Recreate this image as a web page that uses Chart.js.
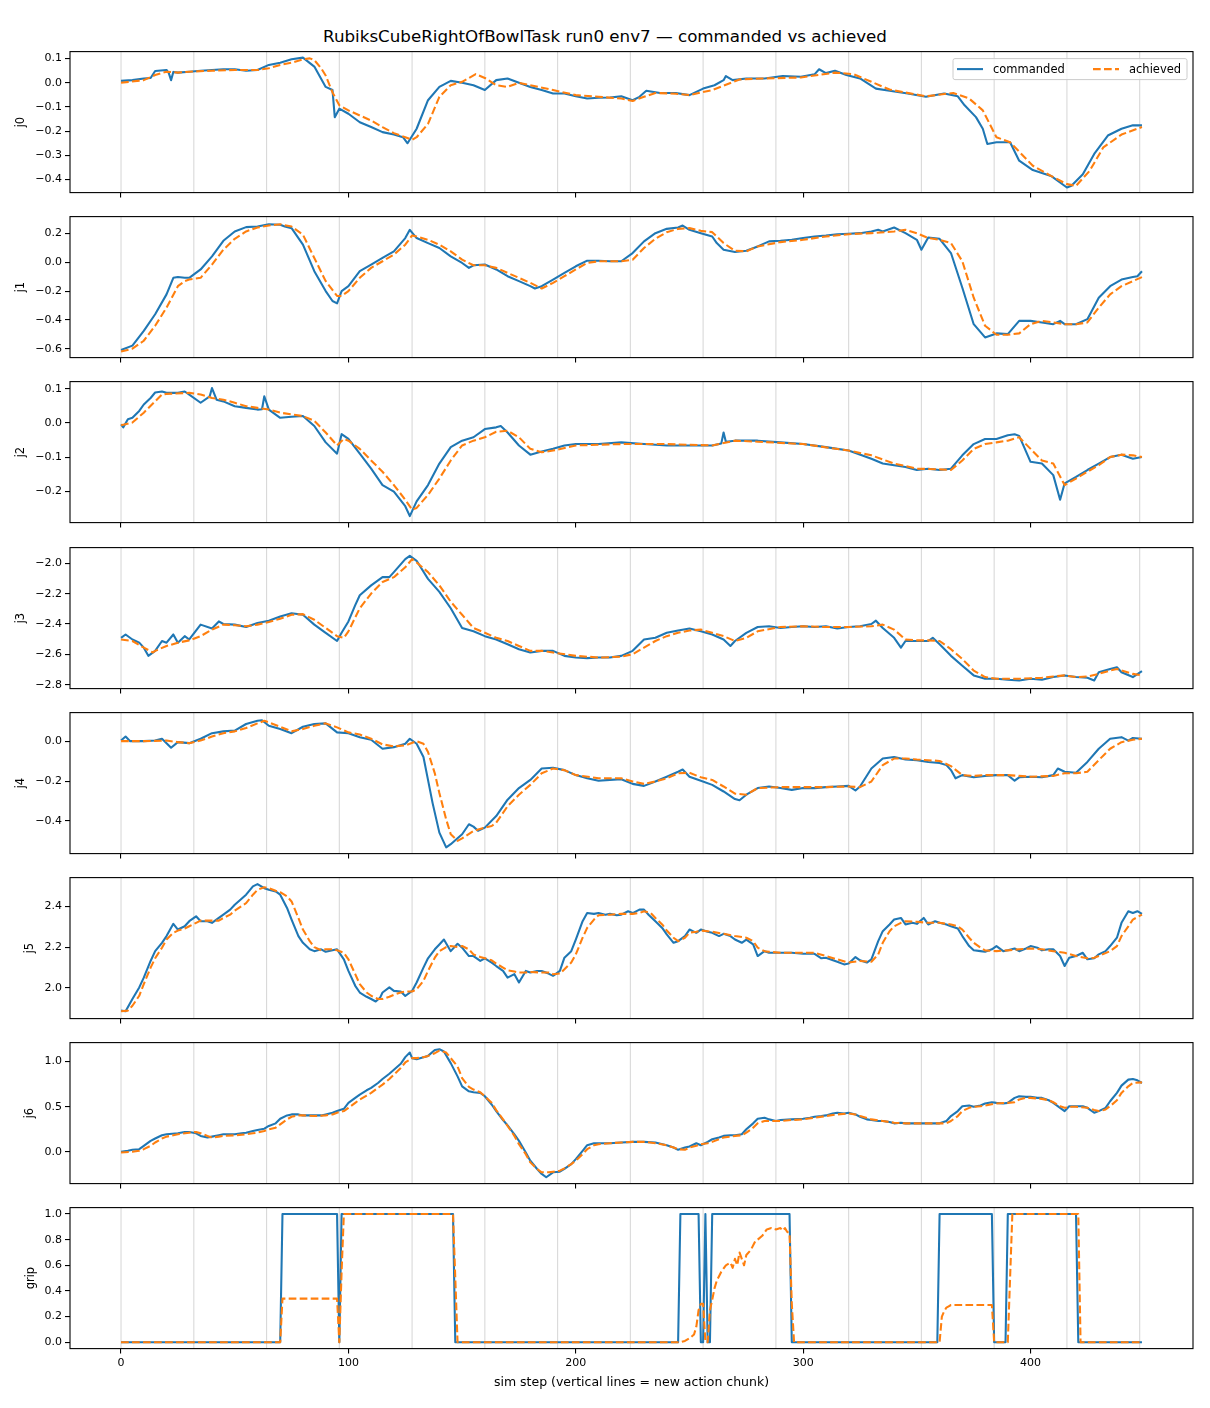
<!DOCTYPE html>
<html>
<head>
<meta charset="utf-8">
<script src="https://cdn.jsdelivr.net/npm/chart.js@4.4.1/dist/chart.umd.min.js"></script>
<style>
body { margin: 0; background: #fff; }
#fig { position: relative; width: 1210px; height: 1408px; font-family: "DejaVu Sans", sans-serif; }
#title { position: absolute; left: 0; top: 26px; width: 1210px; text-align: center; font-size: 16.7px; line-height: 20px; color: #000; }
canvas { position: absolute; left: 0; }
</style>
</head>
<body>
<div id="fig">
  <div id="title">RubiksCubeRightOfBowlTask run0 env7 — commanded vs achieved</div>
</div>
<script>
// sim steps where a new action chunk starts, and x ticks
const chunkStarts = [0, 32, 64, 96, 128, 160, 192, 224, 256, 288, 320, 352, 384, 416, 448];
const xTicks = [0, 100, 200, 300, 400];

// [step, value]
const j0Cmd = [[0,0.008],[5,0.011],[10,0.018],[13,0.02],[15,0.049],[20,0.053],[21,0.04],[22,0.011],[23,0.045],[25,0.042],[30,0.046],[35,0.05],[40,0.053],[45,0.056],[50,0.056],[55,0.05],[60,0.053],[65,0.074],[70,0.083],[75,0.097],[80,0.104],[85,0.067],[90,-0.017],[93,-0.03],[94,-0.142],[96,-0.107],[100,-0.128],[105,-0.163],[110,-0.183],[115,-0.204],[120,-0.214],[124,-0.225],[126,-0.25],[130,-0.19],[135,-0.072],[140,-0.017],[145,0.008],[150,0],[155,-0.01],[160,-0.03],[165,0.011],[170,0.018],[175,0],[180,-0.017],[185,-0.03],[190,-0.044],[195,-0.044],[200,-0.056],[205,-0.065],[210,-0.062],[215,-0.061],[220,-0.056],[225,-0.072],[228,-0.058],[231,-0.033],[237,-0.042],[244,-0.042],[250,-0.051],[256,-0.024],[261,-0.01],[265,0.011],[266,0.028],[269,0.011],[275,0.018],[283,0.018],[291,0.028],[299,0.025],[305,0.035],[307,0.056],[310,0.04],[314,0.05],[319,0.032],[325,0.018],[332,-0.024],[338,-0.033],[346,-0.044],[354,-0.058],[362,-0.044],[368,-0.056],[371,-0.093],[376,-0.142],[379,-0.19],[381,-0.253],[385,-0.246],[391,-0.246],[395,-0.322],[401,-0.361],[409,-0.385],[416,-0.433],[418,-0.426],[423,-0.378],[428,-0.294],[434,-0.218],[440,-0.19],[445,-0.176],[449,-0.176]];
const j0Ach = [[0,0],[10,0.011],[15,0.032],[20,0.046],[25,0.042],[30,0.046],[40,0.05],[50,0.053],[60,0.053],[65,0.06],[70,0.074],[75,0.083],[80,0.097],[83,0.101],[85,0.094],[88,0.06],[90,0.03],[93,-0.04],[96,-0.093],[100,-0.114],[105,-0.135],[110,-0.156],[115,-0.183],[120,-0.208],[125,-0.225],[128,-0.236],[130,-0.225],[135,-0.17],[140,-0.058],[145,-0.01],[150,0.004],[156,0.036],[160,0.02],[165,-0.01],[170,-0.017],[175,0],[180,-0.01],[190,-0.03],[200,-0.051],[210,-0.058],[220,-0.065],[225,-0.075],[230,-0.058],[235,-0.042],[244,-0.045],[250,-0.051],[260,-0.03],[272,0.014],[283,0.018],[299,0.022],[314,0.042],[322,0.036],[330,0.004],[338,-0.028],[354,-0.056],[366,-0.042],[373,-0.065],[379,-0.114],[385,-0.225],[391,-0.246],[401,-0.343],[409,-0.385],[416,-0.419],[420,-0.426],[426,-0.364],[432,-0.267],[440,-0.214],[449,-0.183]];

const j1Cmd = [[0,-0.609],[5,-0.579],[10,-0.476],[15,-0.361],[20,-0.223],[23,-0.108],[25,-0.103],[28,-0.108],[30,-0.108],[35,-0.05],[40,0.041],[45,0.149],[50,0.214],[55,0.244],[60,0.248],[65,0.264],[70,0.26],[72,0.248],[75,0.237],[80,0.122],[85,-0.062],[90,-0.2],[93,-0.269],[95,-0.285],[97,-0.2],[100,-0.166],[105,-0.062],[110,-0.016],[115,0.03],[120,0.076],[125,0.168],[127,0.225],[130,0.168],[135,0.133],[140,0.099],[145,0.041],[150,-0.005],[153,-0.039],[155,-0.021],[160,-0.016],[165,-0.05],[170,-0.097],[175,-0.131],[180,-0.166],[182,-0.182],[185,-0.166],[190,-0.12],[195,-0.074],[200,-0.028],[205,0.011],[210,0.011],[215,0.007],[220,0.007],[225,0.064],[230,0.145],[235,0.202],[240,0.232],[245,0.241],[247,0.255],[250,0.225],[255,0.202],[260,0.179],[262,0.133],[265,0.087],[270,0.071],[275,0.08],[280,0.11],[285,0.145],[290,0.149],[295,0.156],[300,0.168],[305,0.179],[310,0.186],[315,0.195],[320,0.198],[325,0.202],[330,0.214],[333,0.225],[335,0.214],[340,0.241],[345,0.202],[350,0.156],[352,0.087],[355,0.172],[360,0.163],[365,0.064],[370,-0.177],[375,-0.43],[380,-0.522],[385,-0.494],[390,-0.499],[395,-0.407],[400,-0.407],[405,-0.418],[410,-0.43],[413,-0.407],[415,-0.43],[420,-0.43],[425,-0.395],[430,-0.246],[435,-0.166],[440,-0.12],[445,-0.103],[447,-0.097],[449,-0.062]];
const j1Ach = [[0,-0.62],[5,-0.6],[10,-0.545],[15,-0.441],[20,-0.315],[25,-0.166],[28,-0.131],[30,-0.12],[35,-0.108],[40,-0.016],[45,0.087],[50,0.163],[55,0.214],[60,0.241],[65,0.255],[70,0.264],[75,0.248],[80,0.191],[85,0.03],[90,-0.131],[95,-0.234],[97,-0.234],[100,-0.2],[105,-0.108],[110,-0.039],[115,0.007],[120,0.053],[125,0.122],[128,0.186],[130,0.179],[135,0.156],[140,0.122],[145,0.076],[150,0.018],[155,-0.021],[160,-0.021],[165,-0.039],[170,-0.074],[175,-0.108],[180,-0.143],[185,-0.182],[190,-0.143],[195,-0.097],[200,-0.05],[205,-0.005],[210,0.007],[220,0.007],[225,0.018],[230,0.099],[235,0.163],[240,0.209],[245,0.232],[250,0.237],[255,0.218],[260,0.209],[265,0.133],[270,0.08],[275,0.076],[280,0.11],[290,0.14],[300,0.156],[310,0.179],[320,0.195],[330,0.202],[340,0.214],[345,0.225],[350,0.202],[355,0.168],[360,0.156],[365,0.133],[370,0.007],[375,-0.246],[380,-0.441],[385,-0.503],[390,-0.503],[395,-0.494],[400,-0.43],[405,-0.407],[410,-0.418],[415,-0.43],[420,-0.43],[425,-0.418],[430,-0.315],[435,-0.223],[440,-0.166],[445,-0.131],[449,-0.103]];

const j2Cmd = [[0,-0.004],[1,-0.013],[3,0.011],[5,0.015],[8,0.035],[10,0.054],[13,0.073],[15,0.089],[18,0.092],[20,0.088],[25,0.088],[28,0.092],[30,0.083],[35,0.059],[39,0.078],[40,0.102],[42,0.068],[45,0.063],[50,0.049],[55,0.044],[60,0.039],[62,0.04],[63,0.078],[65,0.039],[70,0.015],[75,0.018],[80,0.02],[85,-0.009],[90,-0.057],[95,-0.09],[97,-0.033],[100,-0.047],[105,-0.09],[110,-0.134],[115,-0.182],[120,-0.201],[125,-0.244],[127,-0.273],[130,-0.23],[135,-0.182],[140,-0.119],[145,-0.071],[150,-0.052],[155,-0.042],[160,-0.018],[165,-0.013],[167,-0.009],[170,-0.028],[175,-0.066],[180,-0.093],[185,-0.084],[190,-0.076],[195,-0.066],[200,-0.062],[210,-0.062],[220,-0.057],[230,-0.062],[240,-0.066],[250,-0.066],[260,-0.066],[264,-0.06],[265,-0.028],[266,-0.055],[270,-0.052],[280,-0.052],[290,-0.057],[300,-0.062],[310,-0.071],[320,-0.081],[330,-0.105],[335,-0.119],[340,-0.124],[345,-0.129],[350,-0.138],[355,-0.134],[360,-0.138],[365,-0.134],[370,-0.095],[375,-0.062],[380,-0.047],[385,-0.047],[390,-0.036],[393,-0.033],[395,-0.038],[400,-0.114],[405,-0.119],[410,-0.153],[413,-0.225],[415,-0.177],[420,-0.158],[425,-0.138],[430,-0.119],[435,-0.1],[440,-0.093],[445,-0.105],[449,-0.1]];
const j2Ach = [[0,-0.007],[5,0.001],[10,0.03],[15,0.063],[18,0.083],[20,0.085],[30,0.088],[35,0.083],[40,0.073],[45,0.068],[50,0.059],[55,0.049],[60,0.044],[65,0.039],[70,0.03],[75,0.025],[80,0.02],[85,0.006],[90,-0.028],[95,-0.066],[98,-0.047],[100,-0.052],[105,-0.076],[110,-0.11],[115,-0.143],[120,-0.182],[125,-0.225],[128,-0.254],[130,-0.249],[135,-0.211],[140,-0.163],[145,-0.11],[150,-0.066],[155,-0.052],[160,-0.042],[165,-0.026],[170,-0.023],[175,-0.042],[180,-0.076],[185,-0.086],[190,-0.081],[200,-0.066],[220,-0.062],[240,-0.062],[260,-0.066],[270,-0.052],[280,-0.055],[300,-0.062],[320,-0.081],[330,-0.095],[340,-0.119],[350,-0.134],[360,-0.136],[365,-0.138],[370,-0.11],[375,-0.076],[380,-0.062],[385,-0.057],[390,-0.052],[395,-0.042],[400,-0.076],[405,-0.11],[410,-0.119],[415,-0.182],[420,-0.163],[425,-0.143],[430,-0.124],[435,-0.1],[440,-0.093],[445,-0.095],[449,-0.1]];

const j3Cmd = [[0,-2.491],[2,-2.469],[5,-2.502],[8,-2.523],[10,-2.556],[12,-2.61],[15,-2.577],[18,-2.512],[20,-2.523],[23,-2.469],[25,-2.523],[28,-2.48],[30,-2.502],[35,-2.404],[40,-2.43],[43,-2.383],[45,-2.4],[50,-2.404],[55,-2.42],[60,-2.393],[65,-2.378],[70,-2.35],[75,-2.329],[80,-2.339],[85,-2.404],[90,-2.458],[95,-2.512],[97,-2.458],[100,-2.383],[103,-2.275],[105,-2.21],[110,-2.145],[115,-2.091],[118,-2.091],[120,-2.058],[125,-1.972],[127,-1.95],[130,-1.983],[135,-2.102],[140,-2.188],[145,-2.296],[150,-2.426],[155,-2.448],[160,-2.48],[165,-2.502],[170,-2.534],[175,-2.566],[180,-2.588],[185,-2.577],[190,-2.577],[195,-2.61],[200,-2.621],[205,-2.625],[210,-2.621],[215,-2.621],[220,-2.61],[225,-2.577],[230,-2.502],[235,-2.491],[240,-2.458],[245,-2.443],[250,-2.43],[255,-2.448],[260,-2.469],[265,-2.502],[268,-2.545],[270,-2.512],[275,-2.458],[280,-2.42],[285,-2.415],[290,-2.426],[295,-2.42],[300,-2.415],[305,-2.42],[310,-2.415],[315,-2.43],[320,-2.42],[325,-2.415],[330,-2.4],[332,-2.378],[335,-2.426],[340,-2.491],[343,-2.556],[345,-2.512],[350,-2.512],[355,-2.512],[357,-2.491],[360,-2.534],[365,-2.61],[370,-2.675],[375,-2.739],[380,-2.761],[385,-2.761],[390,-2.768],[395,-2.772],[400,-2.761],[405,-2.768],[410,-2.75],[415,-2.739],[420,-2.75],[425,-2.755],[428,-2.772],[430,-2.718],[435,-2.696],[438,-2.685],[440,-2.718],[445,-2.75],[449,-2.711]];
const j3Ach = [[0,-2.502],[5,-2.512],[10,-2.556],[14,-2.588],[15,-2.577],[20,-2.545],[25,-2.523],[30,-2.508],[35,-2.48],[40,-2.437],[45,-2.404],[50,-2.408],[55,-2.415],[60,-2.404],[65,-2.387],[70,-2.365],[75,-2.339],[80,-2.335],[85,-2.372],[90,-2.426],[95,-2.48],[98,-2.491],[100,-2.448],[105,-2.296],[110,-2.199],[115,-2.123],[120,-2.091],[125,-2.026],[128,-1.972],[130,-1.994],[135,-2.058],[140,-2.145],[145,-2.253],[150,-2.339],[155,-2.426],[160,-2.458],[165,-2.491],[170,-2.512],[175,-2.545],[180,-2.577],[185,-2.577],[190,-2.588],[200,-2.61],[210,-2.621],[220,-2.616],[225,-2.599],[230,-2.556],[235,-2.512],[240,-2.48],[245,-2.458],[250,-2.443],[255,-2.437],[260,-2.458],[265,-2.48],[270,-2.512],[275,-2.491],[280,-2.448],[290,-2.42],[300,-2.415],[310,-2.42],[320,-2.42],[330,-2.415],[335,-2.404],[340,-2.437],[345,-2.502],[350,-2.508],[355,-2.508],[360,-2.512],[365,-2.566],[370,-2.631],[375,-2.707],[380,-2.75],[385,-2.761],[395,-2.761],[405,-2.755],[410,-2.746],[415,-2.739],[420,-2.75],[425,-2.746],[430,-2.729],[435,-2.707],[438,-2.696],[440,-2.707],[445,-2.729],[449,-2.739]];

const j4Cmd = [[0,0.003],[2,0.023],[4,0],[10,0],[15,0.003],[18,0.012],[22,-0.033],[25,-0.005],[30,-0.01],[35,0.012],[40,0.04],[45,0.049],[50,0.053],[55,0.086],[60,0.102],[62,0.105],[65,0.077],[70,0.061],[75,0.04],[80,0.072],[85,0.086],[90,0.089],[95,0.044],[100,0.04],[105,0.02],[110,0.007],[115,-0.038],[120,-0.03],[125,-0.013],[127,0.012],[130,-0.013],[133,-0.079],[135,-0.194],[137,-0.309],[140,-0.458],[143,-0.532],[145,-0.516],[150,-0.466],[153,-0.416],[155,-0.428],[157,-0.449],[160,-0.433],[165,-0.375],[170,-0.293],[175,-0.235],[180,-0.194],[185,-0.137],[190,-0.133],[195,-0.145],[200,-0.17],[205,-0.186],[210,-0.198],[215,-0.194],[220,-0.191],[225,-0.214],[230,-0.224],[235,-0.202],[240,-0.178],[245,-0.153],[247,-0.142],[250,-0.178],[255,-0.198],[260,-0.219],[265,-0.252],[270,-0.29],[272,-0.296],[275,-0.268],[280,-0.235],[285,-0.227],[290,-0.235],[295,-0.244],[300,-0.235],[305,-0.235],[310,-0.23],[315,-0.227],[320,-0.224],[323,-0.247],[325,-0.227],[330,-0.137],[335,-0.087],[340,-0.079],[345,-0.092],[350,-0.095],[355,-0.104],[360,-0.109],[363,-0.12],[365,-0.145],[367,-0.186],[370,-0.17],[375,-0.181],[380,-0.174],[385,-0.17],[390,-0.17],[393,-0.198],[395,-0.181],[400,-0.178],[405,-0.181],[410,-0.17],[412,-0.137],[415,-0.153],[420,-0.158],[425,-0.104],[430,-0.038],[435,0.012],[440,0.02],[443,0.003],[445,0.016],[449,0.012]];
const j4Ach = [[0,0],[10,0],[20,0.003],[25,-0.005],[30,-0.01],[35,0.003],[40,0.023],[45,0.04],[50,0.049],[55,0.066],[60,0.089],[63,0.102],[65,0.094],[70,0.072],[75,0.049],[80,0.061],[85,0.077],[90,0.089],[95,0.069],[100,0.044],[105,0.033],[110,0.012],[115,-0.016],[120,-0.026],[125,-0.021],[130,0],[133,-0.013],[135,-0.054],[138,-0.161],[140,-0.26],[143,-0.392],[145,-0.466],[148,-0.499],[150,-0.487],[155,-0.449],[160,-0.433],[163,-0.425],[165,-0.408],[170,-0.326],[175,-0.268],[180,-0.219],[185,-0.161],[190,-0.137],[195,-0.145],[200,-0.17],[210,-0.186],[220,-0.186],[225,-0.202],[230,-0.214],[235,-0.202],[240,-0.186],[245,-0.161],[250,-0.158],[255,-0.181],[260,-0.194],[265,-0.227],[270,-0.263],[275,-0.268],[280,-0.235],[290,-0.23],[300,-0.23],[310,-0.23],[320,-0.227],[325,-0.23],[330,-0.202],[335,-0.12],[340,-0.087],[345,-0.087],[350,-0.092],[360,-0.099],[365,-0.125],[370,-0.17],[375,-0.174],[380,-0.17],[390,-0.17],[400,-0.178],[410,-0.174],[415,-0.161],[420,-0.161],[425,-0.153],[430,-0.095],[435,-0.038],[440,-0.005],[445,0.007],[449,0.012]];

const j5Cmd = [[0,1.888],[2,1.885],[5,1.945],[8,2.002],[10,2.05],[13,2.132],[15,2.18],[18,2.221],[20,2.254],[23,2.314],[25,2.286],[28,2.302],[30,2.327],[33,2.351],[35,2.327],[38,2.327],[40,2.319],[43,2.343],[45,2.359],[48,2.384],[50,2.408],[53,2.437],[55,2.457],[58,2.498],[60,2.509],[63,2.489],[65,2.481],[68,2.473],[70,2.457],[73,2.392],[75,2.335],[78,2.254],[80,2.221],[83,2.189],[85,2.18],[88,2.189],[90,2.177],[93,2.184],[95,2.189],[98,2.14],[100,2.083],[103,2.01],[105,1.977],[108,1.956],[110,1.945],[112,1.933],[114,1.953],[115,1.977],[118,2.002],[120,1.985],[123,1.982],[125,1.96],[128,1.985],[130,2.026],[133,2.099],[135,2.145],[138,2.189],[140,2.213],[142,2.237],[145,2.18],[148,2.216],[150,2.197],[153,2.156],[155,2.156],[158,2.132],[160,2.145],[163,2.124],[165,2.107],[168,2.083],[170,2.05],[173,2.067],[175,2.026],[178,2.083],[180,2.075],[183,2.083],[185,2.083],[188,2.07],[190,2.059],[193,2.083],[195,2.148],[198,2.18],[200,2.237],[203,2.327],[205,2.367],[208,2.363],[210,2.367],[213,2.359],[215,2.363],[218,2.356],[220,2.359],[223,2.376],[225,2.367],[228,2.384],[230,2.384],[232,2.359],[235,2.327],[238,2.294],[240,2.262],[243,2.221],[245,2.229],[248,2.254],[250,2.286],[253,2.27],[255,2.286],[258,2.275],[260,2.27],[263,2.254],[265,2.265],[268,2.254],[270,2.237],[273,2.221],[275,2.237],[278,2.213],[280,2.156],[283,2.18],[285,2.172],[290,2.172],[295,2.172],[300,2.167],[305,2.167],[308,2.145],[310,2.148],[315,2.128],[318,2.115],[320,2.119],[323,2.151],[325,2.135],[328,2.124],[330,2.14],[333,2.229],[335,2.278],[338,2.311],[340,2.335],[343,2.343],[345,2.311],[348,2.319],[350,2.314],[353,2.343],[355,2.311],[358,2.327],[360,2.319],[363,2.311],[365,2.302],[368,2.291],[370,2.254],[373,2.205],[375,2.184],[378,2.18],[380,2.177],[383,2.189],[385,2.205],[388,2.18],[390,2.184],[393,2.193],[395,2.18],[398,2.193],[400,2.205],[403,2.197],[405,2.184],[408,2.189],[410,2.189],[413,2.156],[415,2.107],[417,2.148],[420,2.156],[423,2.172],[425,2.14],[428,2.145],[430,2.164],[433,2.18],[435,2.205],[438,2.246],[440,2.319],[443,2.376],[445,2.367],[447,2.376],[449,2.363]];
const j5Ach = [[0,1.885],[3,1.888],[5,1.912],[8,1.961],[10,2.018],[13,2.099],[15,2.145],[18,2.197],[20,2.237],[23,2.27],[25,2.281],[28,2.291],[30,2.302],[33,2.319],[35,2.33],[40,2.33],[43,2.33],[45,2.343],[48,2.359],[50,2.379],[55,2.416],[58,2.457],[60,2.481],[63,2.494],[65,2.489],[68,2.476],[70,2.47],[73,2.449],[75,2.424],[78,2.343],[80,2.286],[83,2.229],[85,2.2],[88,2.184],[90,2.189],[93,2.189],[95,2.184],[98,2.172],[100,2.14],[103,2.067],[105,2.018],[108,1.977],[110,1.961],[113,1.945],[115,1.945],[118,1.956],[120,1.966],[123,1.977],[125,1.982],[128,1.982],[130,1.993],[133,2.034],[135,2.083],[138,2.148],[140,2.18],[143,2.2],[145,2.205],[148,2.2],[150,2.205],[153,2.189],[155,2.164],[158,2.151],[160,2.145],[163,2.135],[165,2.119],[168,2.099],[170,2.086],[173,2.08],[175,2.075],[178,2.075],[180,2.078],[185,2.075],[188,2.075],[190,2.067],[193,2.07],[195,2.091],[198,2.124],[200,2.164],[203,2.246],[205,2.294],[208,2.335],[210,2.356],[215,2.359],[220,2.363],[225,2.363],[228,2.367],[230,2.376],[233,2.367],[235,2.343],[238,2.311],[240,2.281],[243,2.246],[245,2.229],[248,2.246],[250,2.27],[253,2.275],[255,2.281],[258,2.278],[260,2.275],[265,2.265],[270,2.254],[275,2.246],[278,2.229],[280,2.197],[283,2.18],[285,2.177],[290,2.172],[300,2.172],[305,2.172],[310,2.156],[315,2.14],[320,2.124],[325,2.132],[330,2.128],[333,2.164],[335,2.221],[338,2.278],[340,2.302],[343,2.319],[345,2.327],[350,2.324],[355,2.319],[360,2.319],[365,2.311],[368,2.302],[370,2.286],[373,2.246],[375,2.221],[378,2.197],[380,2.184],[385,2.18],[390,2.184],[395,2.189],[400,2.193],[405,2.189],[410,2.18],[415,2.172],[420,2.156],[425,2.145],[428,2.148],[430,2.156],[435,2.18],[438,2.205],[440,2.254],[443,2.302],[445,2.335],[449,2.359]];

const j6Cmd = [[0,0],[3,0.011],[5,0.022],[8,0.029],[10,0.066],[13,0.121],[15,0.147],[18,0.183],[20,0.194],[25,0.205],[28,0.22],[30,0.22],[33,0.205],[35,0.176],[38,0.158],[40,0.168],[43,0.183],[45,0.194],[50,0.194],[53,0.205],[55,0.212],[58,0.231],[60,0.242],[63,0.256],[65,0.286],[68,0.315],[70,0.366],[73,0.403],[75,0.414],[78,0.414],[80,0.403],[85,0.403],[88,0.403],[90,0.414],[93,0.432],[95,0.451],[98,0.476],[100,0.542],[103,0.597],[105,0.634],[108,0.681],[110,0.707],[113,0.762],[115,0.806],[118,0.864],[120,0.908],[123,0.974],[125,1.048],[127,1.099],[128,1.037],[130,1.026],[133,1.048],[135,1.062],[138,1.128],[140,1.136],[142,1.11],[145,0.982],[148,0.835],[150,0.725],[153,0.67],[155,0.659],[158,0.652],[160,0.615],[163,0.524],[165,0.451],[168,0.352],[170,0.293],[173,0.194],[175,0.121],[178,-0.007],[180,-0.099],[183,-0.19],[185,-0.245],[187,-0.282],[190,-0.227],[193,-0.22],[195,-0.19],[198,-0.136],[200,-0.081],[203,0.011],[205,0.073],[208,0.095],[210,0.095],[215,0.095],[220,0.103],[225,0.11],[230,0.11],[235,0.103],[240,0.073],[243,0.048],[245,0.022],[248,0.048],[250,0.059],[253,0.095],[255,0.073],[258,0.11],[260,0.139],[263,0.158],[265,0.176],[268,0.183],[270,0.183],[273,0.194],[275,0.249],[278,0.315],[280,0.366],[283,0.377],[285,0.359],[288,0.341],[290,0.352],[295,0.359],[300,0.366],[303,0.377],[305,0.388],[308,0.396],[310,0.403],[313,0.425],[315,0.432],[318,0.425],[320,0.432],[323,0.414],[325,0.388],[328,0.359],[330,0.352],[333,0.341],[335,0.341],[338,0.33],[340,0.315],[343,0.322],[345,0.315],[350,0.315],[355,0.315],[360,0.315],[363,0.341],[365,0.396],[368,0.451],[370,0.505],[373,0.513],[375,0.498],[378,0.513],[380,0.535],[383,0.549],[385,0.542],[388,0.535],[390,0.542],[393,0.597],[395,0.615],[398,0.608],[400,0.608],[403,0.597],[405,0.597],[408,0.571],[410,0.542],[413,0.487],[415,0.451],[417,0.505],[420,0.505],[423,0.505],[425,0.487],[428,0.432],[430,0.451],[433,0.487],[435,0.56],[438,0.652],[440,0.733],[443,0.799],[445,0.806],[447,0.791],[449,0.762]];
const j6Ach = [[0,-0.007],[5,0],[8,0.011],[10,0.029],[13,0.066],[15,0.103],[18,0.147],[20,0.168],[25,0.194],[30,0.212],[33,0.22],[35,0.205],[38,0.176],[40,0.158],[43,0.168],[45,0.176],[50,0.183],[55,0.194],[58,0.205],[60,0.212],[63,0.231],[65,0.249],[68,0.267],[70,0.304],[73,0.359],[75,0.388],[78,0.403],[80,0.403],[85,0.396],[90,0.403],[93,0.414],[95,0.432],[98,0.451],[100,0.487],[103,0.542],[105,0.579],[108,0.623],[110,0.652],[113,0.707],[115,0.744],[118,0.806],[120,0.853],[123,0.927],[125,0.989],[128,1.037],[130,1.037],[133,1.048],[135,1.062],[138,1.092],[140,1.121],[143,1.099],[145,1.037],[148,0.945],[150,0.817],[153,0.718],[155,0.689],[158,0.659],[160,0.615],[163,0.542],[165,0.462],[168,0.359],[170,0.286],[173,0.176],[175,0.084],[178,-0.026],[180,-0.117],[183,-0.19],[185,-0.227],[188,-0.227],[190,-0.22],[193,-0.209],[195,-0.183],[198,-0.136],[200,-0.099],[203,-0.026],[205,0.029],[208,0.073],[210,0.084],[215,0.095],[220,0.103],[225,0.11],[230,0.11],[235,0.095],[240,0.073],[243,0.048],[245,0.029],[248,0.022],[250,0.048],[253,0.066],[255,0.084],[258,0.095],[260,0.11],[263,0.139],[265,0.158],[268,0.168],[270,0.176],[273,0.183],[275,0.212],[278,0.267],[280,0.315],[283,0.341],[285,0.341],[290,0.341],[295,0.352],[300,0.359],[305,0.377],[310,0.396],[315,0.414],[320,0.425],[323,0.414],[325,0.396],[330,0.359],[335,0.341],[340,0.322],[345,0.315],[350,0.315],[355,0.315],[360,0.315],[363,0.315],[365,0.341],[368,0.396],[370,0.451],[373,0.487],[375,0.498],[378,0.505],[380,0.513],[385,0.535],[390,0.542],[393,0.549],[395,0.579],[398,0.597],[400,0.597],[405,0.586],[408,0.571],[410,0.549],[413,0.505],[415,0.487],[418,0.498],[420,0.498],[425,0.487],[428,0.462],[430,0.451],[433,0.469],[435,0.505],[438,0.571],[440,0.652],[443,0.725],[445,0.762],[449,0.769]];

const gripCmd = [[0,0],[70,0],[71,1],[95,1],[96,0],[97,1],[146,1],[147,0],[245,0],[246,1],[254,1],[255,0],[256,0],[257,1],[258,0],[259,0],[260,1],[294,1],[295,0],[359,0],[360,1],[383,1],[384,0],[389,0],[390,1],[420,1],[421,0],[449,0]];
const gripAch = [[0,0],[70,0],[71,0.34],[95,0.34],[96,0],[97,0.55],[98,1],[146,1],[147,0.5],[148,0],[246,0],[248,0.01],[250,0.03],[252,0.06],[253,0.12],[254,0.25],[255,0.3],[256,0.3],[257,0],[258,0],[259,0.25],[260,0.33],[261,0.42],[262,0.48],[264,0.55],[266,0.6],[268,0.62],[269,0.58],[270,0.65],[271,0.6],[272,0.7],[273,0.65],[274,0.6],[275,0.68],[277,0.72],[279,0.79],[280,0.8],[282,0.83],[284,0.88],[286,0.89],[288,0.88],[290,0.89],[291,0.87],[292,0.89],[293,0.86],[294,0.85],[295,0.3],[296,0],[360,0],[361,0.2],[362,0.24],[363,0.27],[364,0.28],[365,0.29],[383,0.29],[384,0],[390,0],[391,0.5],[392,1],[421,1],[422,0],[449,0]];

// y tick values per panel
const j0Ticks = [-0.4, -0.3, -0.2, -0.1, 0.0, 0.1];
const j1Ticks = [-0.6, -0.4, -0.2, 0.0, 0.2];
const j2Ticks = [-0.2, -0.1, 0.0, 0.1];
const j3Ticks = [-2.8, -2.6, -2.4, -2.2, -2.0];
const j4Ticks = [-0.4, -0.2, 0.0];
const j5Ticks = [2.0, 2.2, 2.4];
const j6Ticks = [0.0, 0.5, 1.0];
const gripTicks = [0.0, 0.2, 0.4, 0.6, 0.8, 1.0];

const BLUE = "#1f77b4";
const ORANGE = "#ff7f0e";
const LW = 2.08;
const DASH = [7.7, 3.3];
const X_MIN = -22.45, X_MAX = 471.45;

Chart.defaults.font.family = "'DejaVu Sans', sans-serif";
Chart.defaults.color = "#000";

const fmt = v => (v < -1e-9 ? "\u2212" : "") + Math.abs(v).toFixed(1);
const toXY = arr => arr.map(p => ({ x: p[0], y: p[1] }));

// chunk lines behind the data, black frame on top
const frame = {
	id: "frame",
	beforeDatasetsDraw(chart) {
		const { ctx, chartArea: { top, bottom } } = chart;
		const xs = chart.scales.x;
		ctx.save();
		ctx.strokeStyle = "rgba(128,128,128,0.3)";
		ctx.lineWidth = 1.1;
		chunkStarts.forEach(c => {
			const px = xs.getPixelForValue(c);
			ctx.beginPath();
			ctx.moveTo(px, top);
			ctx.lineTo(px, bottom);
			ctx.stroke();
		});
		ctx.restore();
	},
	afterDraw(chart) {
		const { ctx, chartArea: { left, top, width, height } } = chart;
		ctx.save();
		ctx.strokeStyle = "#000";
		ctx.lineWidth = 1.1;
		ctx.strokeRect(left, top, width, height);
		ctx.restore();
	}
};

// legend box for the first panel
const legendBox = {
	id: "legendBox",
	afterDraw(chart) {
		const { ctx, chartArea: { right, top } } = chart;
		const bx = right - 240, by = top + 7, bw = 234, bh = 21;
		ctx.save();
		ctx.fillStyle = "rgba(255,255,255,0.8)";
		ctx.strokeStyle = "#cccccc";
		ctx.lineWidth = 1;
		ctx.beginPath();
		ctx.roundRect(bx, by, bw, bh, 2);
		ctx.fill();
		ctx.stroke();
		const ly = by + 10.5;
		const items = [
			{ text: "commanded", color: BLUE, dash: [], x: bx + 4 },
			{ text: "achieved", color: ORANGE, dash: DASH, x: bx + 140 }
		];
		ctx.font = "11.5px 'DejaVu Sans', sans-serif";
		ctx.textBaseline = "middle";
		items.forEach(it => {
			ctx.strokeStyle = it.color;
			ctx.lineWidth = LW;
			ctx.setLineDash(it.dash);
			ctx.beginPath();
			ctx.moveTo(it.x, ly);
			ctx.lineTo(it.x + 26, ly);
			ctx.stroke();
			ctx.setLineDash([]);
			ctx.fillStyle = "#000";
			ctx.fillText(it.text, it.x + 36, ly + 0.5);
		});
		ctx.restore();
	}
};

const fig = document.getElementById("fig");
const BOX_H = 142.6, GAP = 165.2, FIRST_TOP = 50;

function panel(i, name, cmd, ach, yMin, yMax, yTicks, labelX, last) {
	const boxTop = FIRST_TOP + GAP * i;
	const top = boxTop - 8;
	const h = last ? 1408 - top : 165;
	const canvas = document.createElement("canvas");
	canvas.width = 1210;
	canvas.height = Math.round(h);
	canvas.style.top = top + "px";
	fig.appendChild(canvas);
	const xH = canvas.height - 8 - BOX_H;
	new Chart(canvas.getContext("2d"), {
		type: "line",
		data: {
			datasets: [
				{ label: "commanded", data: toXY(cmd), borderColor: BLUE, borderWidth: LW, pointRadius: 0, tension: 0, borderJoinStyle: "round", order: 1 },
				{ label: "achieved", data: toXY(ach), borderColor: ORANGE, borderWidth: LW, borderDash: DASH, pointRadius: 0, tension: 0, borderJoinStyle: "round", order: 0 }
			]
		},
		options: {
			responsive: false,
			animation: false,
			layout: { padding: { top: 8, right: 17, left: 0, bottom: 0 } },
			plugins: { legend: { display: false }, tooltip: { enabled: false } },
			scales: {
				x: {
					type: "linear",
					min: X_MIN,
					max: X_MAX,
					afterBuildTicks: s => { s.ticks = xTicks.map(v => ({ value: v })); },
					afterFit: s => { s.height = xH; },
					border: { display: false },
					grid: { drawOnChartArea: false, drawTicks: true, tickLength: 5, color: "#000", lineWidth: 1.1 },
					ticks: { display: last, font: { size: 11 }, padding: 3, maxRotation: 0, callback: v => String(v) },
					title: { display: last, text: "sim step (vertical lines = new action chunk)", font: { size: 12.5 }, padding: { top: 0, bottom: 18 } }
				},
				y: {
					min: yMin,
					max: yMax,
					afterBuildTicks: s => { s.ticks = yTicks.map(v => ({ value: v })); },
					afterFit: s => { s.width = 70; },
					border: { display: false },
					grid: { drawOnChartArea: false, drawTicks: true, tickLength: 5, color: "#000", lineWidth: 1.1 },
					ticks: { font: { size: 11 }, padding: 3, callback: v => fmt(v) },
					title: { display: true, text: name, font: { size: 11.5 }, padding: { top: labelX - 7, bottom: 0 } }
				}
			}
		},
		plugins: i === 0 ? [frame, legendBox] : [frame]
	});
}

panel(0, "j0", j0Cmd, j0Ach, -0.454, 0.129, j0Ticks, 21, false);
panel(1, "j1", j1Cmd, j1Ach, -0.662, 0.317, j1Ticks, 21, false);
panel(2, "j2", j2Cmd, j2Ach, -0.292, 0.121, j2Ticks, 21, false);
panel(3, "j3", j3Cmd, j3Ach, -2.826, -1.896, j3Ticks, 21, false);
panel(4, "j4", j4Cmd, j4Ach, -0.563, 0.143, j4Ticks, 21, false);
panel(5, "j5", j5Cmd, j5Ach, 1.849, 2.541, j5Ticks, 30, false);
panel(6, "j6", j6Cmd, j6Ach, -0.352, 1.209, j6Ticks, 30, false);
panel(7, "grip", gripCmd, gripAch, -0.05, 1.05, gripTicks, 31, true);
</script>
</body>
</html>
